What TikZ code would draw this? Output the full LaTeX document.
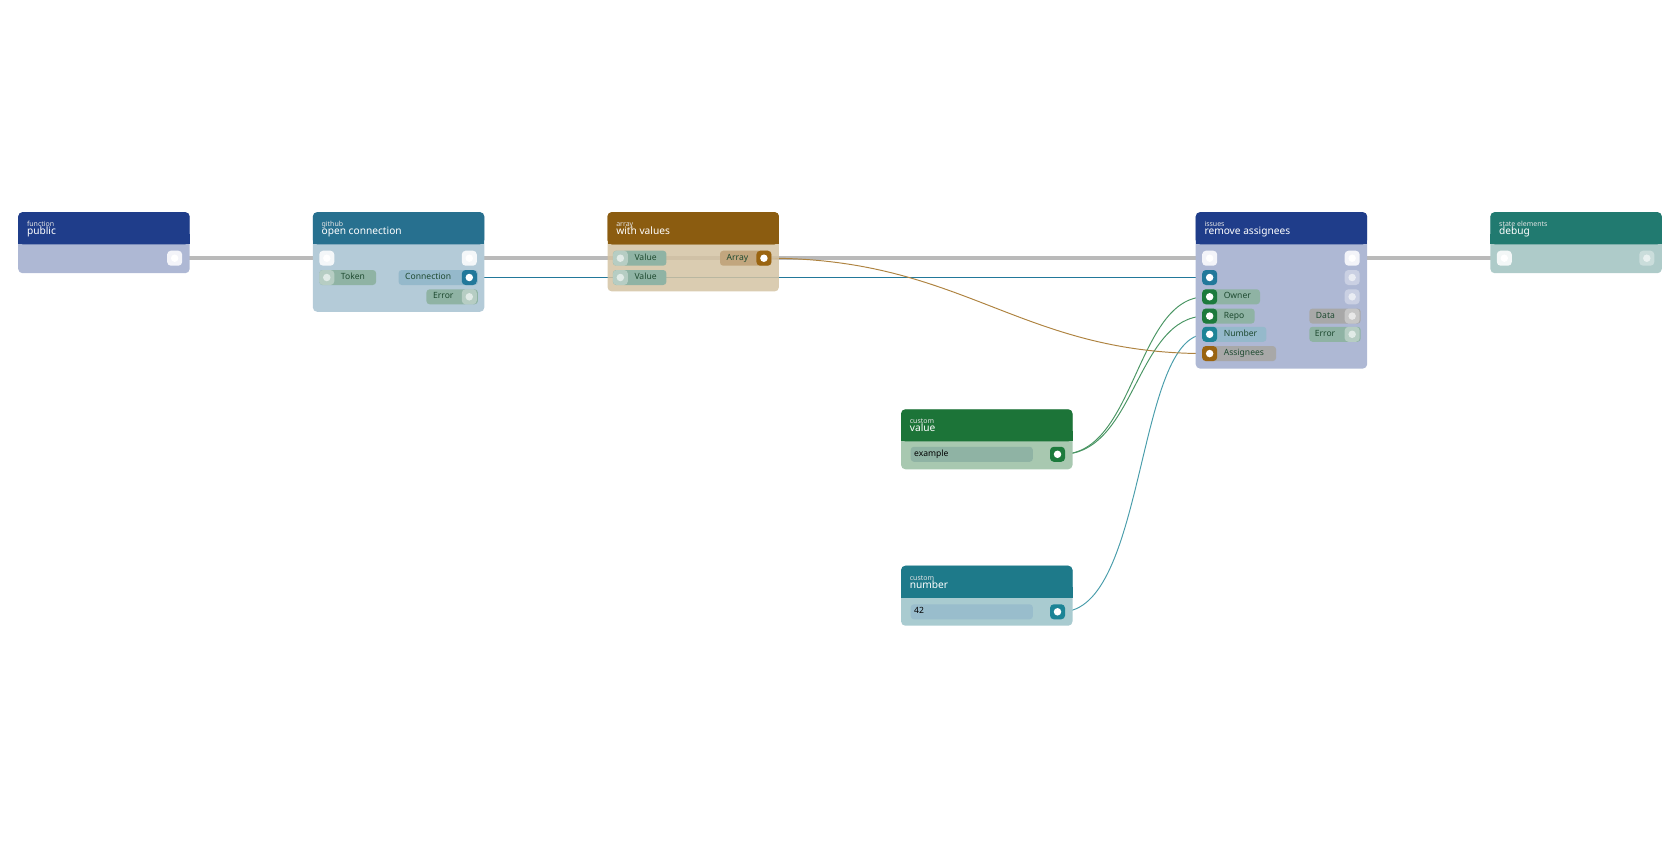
\documentclass[tikz,border=0pt]{standalone}
\usepackage{fontspec}
\setmainfont{Noto Sans}
\usetikzlibrary{backgrounds}
\definecolor{hBlue}{HTML}{1F3D8A}\definecolor{bBlue}{HTML}{AEB8D4}
\definecolor{hGit}{HTML}{27708F}\definecolor{bGit}{HTML}{B4CBD8}
\definecolor{hArr}{HTML}{8B5C10}\definecolor{bArr}{HTML}{D4C3A3}
\definecolor{hDbg}{HTML}{217A70}\definecolor{bDbg}{HTML}{AECBC9}
\definecolor{hVal}{HTML}{1C7438}\definecolor{bVal}{HTML}{A8C8B0}
\definecolor{hNum}{HTML}{1E7A8A}\definecolor{bNum}{HTML}{A9CBD0}
\definecolor{cGit}{HTML}{22789A}\definecolor{cGrn}{HTML}{1C7A3C}
\definecolor{cNum}{HTML}{1C8496}\definecolor{cArr}{HTML}{9A6410}
\definecolor{pGrn}{HTML}{8FB3A4}\definecolor{pBlu}{HTML}{95B9CB}
\definecolor{pArr}{HTML}{C2A67E}\definecolor{pGry}{HTML}{A8A8A8}
\definecolor{tGrn}{HTML}{1E4A30}
\newcommand\blk[8]{% name x top bottom head body cat title
  \fill[#6,rounded corners=4] (#2,#3) rectangle (#2+160,#4);
  \fill[#5,rounded corners=4] (#2,#3) rectangle (#2+160,#3+30);
  \fill[#5] (#2,#3+20) rectangle (#2+160,#3+30);
  \node[cat] at (#2+8,#3+13.5) {#7};
  \node[head] at (#2+8,#3+21) {#8};
  \coordinate (#1) at (#2,#3);}
\newcommand\port[4]{% name x y color
  \fill[#4,rounded corners=3.5] (#2-7,#3-7) rectangle (#2+7,#3+7);
  \node[circle,fill=white,inner sep=0,minimum size=7pt] (#1) at (#2,#3) {};}
\newcommand\ghost[3]{% name x y  (light inactive port)
  \fill[white,opacity=0.35,rounded corners=3.5] (#2-7,#3-7) rectangle (#2+7,#3+7);
  \node[circle,fill=white,fill opacity=0.6,inner sep=0,minimum size=7pt] (#1) at (#2,#3) {};}
\newcommand\pill[6]{% x1 x2 y color text textx
  \fill[#4,rounded corners=3] (#1,#3-7) rectangle (#2,#3+7);
  \node[lbl,anchor=west] at (#6,#3) {\vphantom{Ag}#5};}
\begin{document}
\begin{tikzpicture}[x=1pt,y=-1pt,
  head/.style={font=\fontsize{9.5}{10}\selectfont,text=white,anchor=base west,inner sep=0},
  cat/.style={font=\fontsize{6.5}{7}\selectfont,text=white!80!gray,anchor=base west,inner sep=0},
  lbl/.style={font=\fontsize{8}{9}\selectfont,inner sep=0,text=tGrn},
  wire/.style={line width=0.9pt},
  exec/.style={line width=3.5pt,draw=black!27}]
\useasboundingbox (0,0) rectangle (1568,784);
% blocks
\blk{pub}{17}{198}{255}{hBlue}{bBlue}{function}{public}
\blk{git}{292}{198}{291}{hGit}{bGit}{github}{open connection}
\blk{iss}{1116}{198}{344}{hBlue}{bBlue}{issues}{remove assignees}
\blk{dbg}{1391}{198}{255}{hDbg}{bDbg}{state elements}{debug}
\blk{val}{841}{382}{438}{hVal}{bVal}{custom}{value}
\blk{num}{841}{528}{584}{hNum}{bNum}{custom}{number}
% public
\port{pubout}{163}{241}{white!85!bBlue}
% github
\port{gitin}{305}{241}{white!85!bGit}
\port{gitout}{438}{241}{white!85!bGit}
\pill{298}{351}{259}{pGrn}{Token}{318}
\ghost{gtok}{305}{259}
\pill{372}{446}{259}{pBlu}{Connection}{378}
\port{gconn}{438}{259}{cGit}
\pill{398}{446}{277}{pGrn}{Error}{404}
\ghost{gerr}{438}{277}
% issues
\port{issin}{1129}{241}{white!85!bBlue}
\port{issout}{1262}{241}{white!85!bBlue}
\port{iconn}{1129}{259}{cGit}
\ghost{ig1}{1262}{259}
\ghost{ig2}{1262}{277}
\pill{1122}{1176}{277}{pGrn}{Owner}{1142}
\port{iown}{1129}{277}{cGrn}
\pill{1122}{1171}{295}{pGrn}{Repo}{1142}
\port{irepo}{1129}{295}{cGrn}
\pill{1122}{1182}{312}{pBlu}{Number}{1142}
\port{inum}{1129}{312}{cNum}
\pill{1122}{1191}{330}{pGry}{Assignees}{1142}
\port{iass}{1129}{330}{cArr}
\pill{1222}{1270}{295}{pGry}{Data}{1228}
\ghost{idata}{1262}{295}
\pill{1222}{1270}{312}{pGrn}{Error}{1227}
\ghost{ierr}{1262}{312}
% debug
\port{dbgin}{1404}{241}{white!85!bDbg}
\ghost{dbgout}{1537}{241}
% value / number
\fill[pGrn,rounded corners=3] (850,417) rectangle (964,431);
\node[lbl,anchor=west,text=black] at (853,424) {\vphantom{Ag}example};
\port{vout}{987}{424}{cGrn}
\fill[pBlu!80!bNum,rounded corners=3] (850,564) rectangle (964,578);
\node[lbl,anchor=west,text=black] at (853,571) {\vphantom{Ag}42};
\port{nout}{987}{571}{cNum}
\begin{pgfonlayer}{background}
% exec wires
\draw[exec] (pubout) -- (gitin);
\draw[exec] (gitout) -- (issin);
\draw[exec] (issout) -- (dbgin);
% data wires
\draw[wire,cGit] (gconn) -- (iconn);
\draw[wire,cNum!80] (nout) .. controls (1070,571) and (1060,312) .. (inum);
\draw[wire,cGrn!80] (vout) .. controls (1060,424) and (1060,277) .. (iown);
\draw[wire,cGrn!80] (vout) .. controls (1060,424) and (1060,295) .. (irepo);
\end{pgfonlayer}
% with values (drawn over wires, translucent)
\begin{scope}[opacity=0.85]
\blk{arr}{567}{198}{272}{hArr}{bArr}{array}{with values}
\end{scope}
\fill[hArr,rounded corners=4] (567,198) rectangle (727,228);
\fill[hArr] (567,218) rectangle (727,228);
\node[cat] at (575,211.5) {array};
\node[head] at (575,219) {with values};
\pill{572}{622}{241}{pGrn}{Value}{592}
\ghost{av1}{579}{241}
\pill{572}{622}{259}{pGrn}{Value}{592}
\ghost{av2}{579}{259}
\pill{672}{720}{241}{pArr}{Array}{678}
\port{aout}{713}{241}{cArr}
\begin{pgfonlayer}{background}
\draw[wire,cArr!80] (aout) .. controls (900,241) and (950,330) .. (iass);
\end{pgfonlayer}
\end{tikzpicture}
\end{document}
